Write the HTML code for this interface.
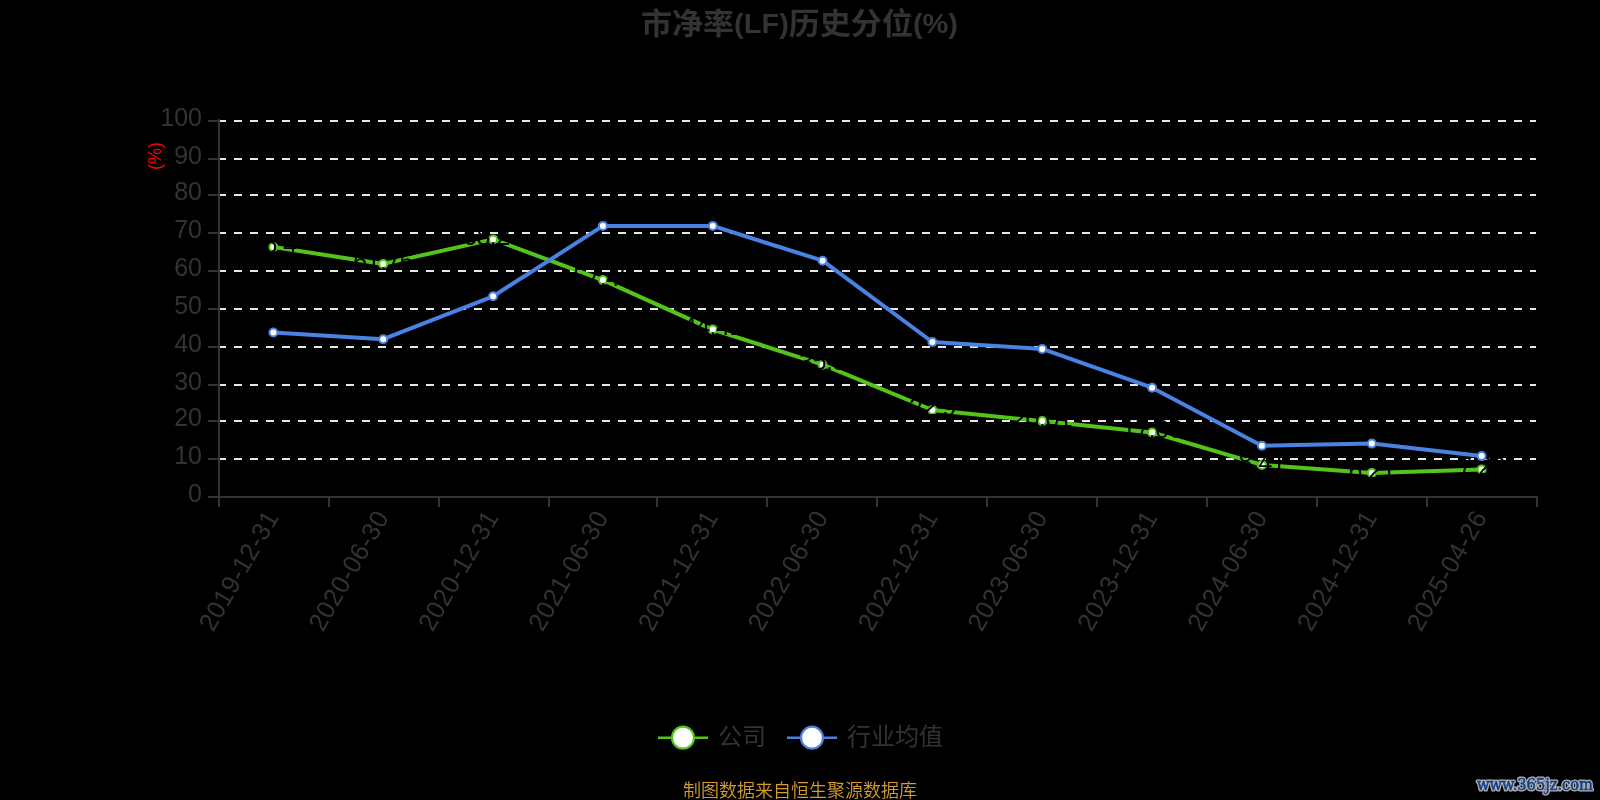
<!DOCTYPE html>
<html lang="zh-CN"><head><meta charset="utf-8"><title>市净率(LF)历史分位(%)</title>
<style>html,body{margin:0;padding:0;background:#000;}body{width:1600px;height:800px;overflow:hidden;}svg{display:block;will-change:transform;}text{font-family:"Liberation Sans","Noto Sans CJK SC",sans-serif;}</style></head><body>
<svg width="1600" height="800" viewBox="0 0 1600 800">
<rect width="1600" height="800" fill="#000"/>
<text x="641" y="33.8" textLength="317" lengthAdjust="spacingAndGlyphs" font-size="30" font-weight="bold" fill="#333">市净率<tspan font-size="28" dy="-1.2">(LF)</tspan><tspan dy="1.2">历史分位</tspan><tspan font-size="28" dy="-1.2">(%)</tspan></text>
<g stroke="#e6e6e6" stroke-width="2" stroke-dasharray="8 8">
<line x1="218" y1="121" x2="1536" y2="121"/>
<line x1="218" y1="159" x2="1536" y2="159"/>
<line x1="218" y1="195" x2="1536" y2="195"/>
<line x1="218" y1="233" x2="1536" y2="233"/>
<line x1="218" y1="271" x2="1536" y2="271"/>
<line x1="218" y1="309" x2="1536" y2="309"/>
<line x1="218" y1="347" x2="1536" y2="347"/>
<line x1="218" y1="385" x2="1536" y2="385"/>
<line x1="218" y1="421" x2="1536" y2="421"/>
<line x1="218" y1="459" x2="1536" y2="459"/>
</g>
<g stroke="#333333" stroke-width="2" fill="none">
<line x1="219" y1="119" x2="219" y2="498"/>
<line x1="218" y1="497" x2="1538" y2="497"/>
<line x1="208" y1="121" x2="219" y2="121"/>
<line x1="208" y1="159" x2="219" y2="159"/>
<line x1="208" y1="195" x2="219" y2="195"/>
<line x1="208" y1="233" x2="219" y2="233"/>
<line x1="208" y1="271" x2="219" y2="271"/>
<line x1="208" y1="309" x2="219" y2="309"/>
<line x1="208" y1="347" x2="219" y2="347"/>
<line x1="208" y1="385" x2="219" y2="385"/>
<line x1="208" y1="421" x2="219" y2="421"/>
<line x1="208" y1="459" x2="219" y2="459"/>
<line x1="208" y1="497" x2="219" y2="497"/>
<line x1="219" y1="497" x2="219" y2="507"/>
<line x1="329" y1="497" x2="329" y2="507"/>
<line x1="439" y1="497" x2="439" y2="507"/>
<line x1="549" y1="497" x2="549" y2="507"/>
<line x1="657" y1="497" x2="657" y2="507"/>
<line x1="767" y1="497" x2="767" y2="507"/>
<line x1="877" y1="497" x2="877" y2="507"/>
<line x1="987" y1="497" x2="987" y2="507"/>
<line x1="1097" y1="497" x2="1097" y2="507"/>
<line x1="1207" y1="497" x2="1207" y2="507"/>
<line x1="1317" y1="497" x2="1317" y2="507"/>
<line x1="1427" y1="497" x2="1427" y2="507"/>
<line x1="1537" y1="497" x2="1537" y2="507"/>
</g>
<g font-size="25" fill="#333" text-anchor="end">
<text transform="translate(202,126.4) scale(1,1.03)">100</text>
<text transform="translate(202,164.4) scale(1,1.03)">90</text>
<text transform="translate(202,200.4) scale(1,1.03)">80</text>
<text transform="translate(202,238.4) scale(1,1.03)">70</text>
<text transform="translate(202,276.4) scale(1,1.03)">60</text>
<text transform="translate(202,314.4) scale(1,1.03)">50</text>
<text transform="translate(202,352.4) scale(1,1.03)">40</text>
<text transform="translate(202,390.4) scale(1,1.03)">30</text>
<text transform="translate(202,426.4) scale(1,1.03)">20</text>
<text transform="translate(202,464.4) scale(1,1.03)">10</text>
<text transform="translate(202,502.4) scale(1,1.03)">0</text>
</g>
<text transform="translate(161,155.9) rotate(-90)" text-anchor="middle" font-size="18" fill="#ff0000">(%)</text>
<g font-size="25" fill="#333" text-anchor="end">
<text transform="translate(272.2,512.5) rotate(-60) scale(1,1.03)" x="0" y="8.5" letter-spacing="0.6">2019-12-31</text>
<text transform="translate(382.1,512.5) rotate(-60) scale(1,1.03)" x="0" y="8.5" letter-spacing="0.6">2020-06-30</text>
<text transform="translate(491.9,512.5) rotate(-60) scale(1,1.03)" x="0" y="8.5" letter-spacing="0.6">2020-12-31</text>
<text transform="translate(601.7,512.5) rotate(-60) scale(1,1.03)" x="0" y="8.5" letter-spacing="0.6">2021-06-30</text>
<text transform="translate(711.5,512.5) rotate(-60) scale(1,1.03)" x="0" y="8.5" letter-spacing="0.6">2021-12-31</text>
<text transform="translate(821.4,512.5) rotate(-60) scale(1,1.03)" x="0" y="8.5" letter-spacing="0.6">2022-06-30</text>
<text transform="translate(931.2,512.5) rotate(-60) scale(1,1.03)" x="0" y="8.5" letter-spacing="0.6">2022-12-31</text>
<text transform="translate(1041.0,512.5) rotate(-60) scale(1,1.03)" x="0" y="8.5" letter-spacing="0.6">2023-06-30</text>
<text transform="translate(1150.9,512.5) rotate(-60) scale(1,1.03)" x="0" y="8.5" letter-spacing="0.6">2023-12-31</text>
<text transform="translate(1260.7,512.5) rotate(-60) scale(1,1.03)" x="0" y="8.5" letter-spacing="0.6">2024-06-30</text>
<text transform="translate(1370.5,512.5) rotate(-60) scale(1,1.03)" x="0" y="8.5" letter-spacing="0.6">2024-12-31</text>
<text transform="translate(1480.4,512.5) rotate(-60) scale(1,1.03)" x="0" y="8.5" letter-spacing="0.6">2025-04-26</text>
</g>
<polyline points="273.4,247.0 383.2,263.9 493.1,239.4 602.9,280.1 712.8,329.6 822.6,364.7 932.4,410.0 1042.2,421.1 1152.1,432.5 1261.9,464.9 1371.8,472.9 1481.6,469.4" fill="none" stroke="#52c41a" stroke-width="4" stroke-linejoin="bevel"/>
<g fill="#fff" stroke="#52c41a" stroke-width="2">
<circle cx="273.4" cy="247.0" r="4"/>
<circle cx="383.2" cy="263.9" r="4"/>
<circle cx="493.1" cy="239.4" r="4"/>
<circle cx="602.9" cy="280.1" r="4"/>
<circle cx="712.8" cy="329.6" r="4"/>
<circle cx="822.6" cy="364.7" r="4"/>
<circle cx="932.4" cy="410.0" r="4"/>
<circle cx="1042.2" cy="421.1" r="4"/>
<circle cx="1152.1" cy="432.5" r="4"/>
<circle cx="1261.9" cy="464.9" r="4"/>
<circle cx="1371.8" cy="472.9" r="4"/>
<circle cx="1481.6" cy="469.4" r="4"/>
</g>
<g font-size="25" fill="#000" text-anchor="middle" letter-spacing="-0.5" opacity="0.999">
<text transform="translate(273.4,252.6) scale(1,1.03)">66.4</text>
<text transform="translate(383.2,269.5) scale(1,1.03)">61.76</text>
<text transform="translate(493.1,245.0) scale(1,1.03)">68.24</text>
<text transform="translate(602.9,285.7) scale(1,1.03)">57.45</text>
<text transform="translate(712.8,335.2) scale(1,1.03)">44.41</text>
<text transform="translate(822.6,370.3) scale(1,1.03)">35.3</text>
<text transform="translate(932.4,415.6) scale(1,1.03)">22.9</text>
<text transform="translate(1042.2,426.7) scale(1,1.03)">20.01</text>
<text transform="translate(1152.1,438.1) scale(1,1.03)">17.06</text>
<text transform="translate(1261.9,470.5) scale(1,1.03)">8.41</text>
<text transform="translate(1371.8,478.5) scale(1,1.03)">6.21</text>
<text transform="translate(1481.6,475.0) scale(1,1.03)">7.26</text>
</g>
<polyline points="273.4,332.5 383.2,339.2 493.1,296.3 602.9,225.9 712.8,225.9 822.6,260.7 932.4,342.0 1042.2,348.9 1152.1,387.7 1261.9,445.7 1371.8,443.6 1481.6,456.1" fill="none" stroke="#4a82e3" stroke-width="4" stroke-linejoin="bevel"/>
<g fill="#fff" stroke="#4a82e3" stroke-width="2">
<circle cx="273.4" cy="332.5" r="4"/>
<circle cx="383.2" cy="339.2" r="4"/>
<circle cx="493.1" cy="296.3" r="4"/>
<circle cx="602.9" cy="225.9" r="4"/>
<circle cx="712.8" cy="225.9" r="4"/>
<circle cx="822.6" cy="260.7" r="4"/>
<circle cx="932.4" cy="342.0" r="4"/>
<circle cx="1042.2" cy="348.9" r="4"/>
<circle cx="1152.1" cy="387.7" r="4"/>
<circle cx="1261.9" cy="445.7" r="4"/>
<circle cx="1371.8" cy="443.6" r="4"/>
<circle cx="1481.6" cy="456.1" r="4"/>
</g>
<line x1="658" y1="737.7" x2="708" y2="737.7" stroke="#52c41a" stroke-width="2.5"/>
<circle cx="683" cy="737.7" r="11" fill="#fff" stroke="#52c41a" stroke-width="2.2"/>
<text x="718.0" y="744.6" font-size="24" fill="#333">公司</text>
<line x1="787" y1="737.7" x2="837" y2="737.7" stroke="#4a82e3" stroke-width="2.5"/>
<circle cx="812" cy="737.7" r="11" fill="#fff" stroke="#4a82e3" stroke-width="2.2"/>
<text x="847.0" y="744.6" font-size="24" fill="#333">行业均值</text>
<text x="800" y="796.5" text-anchor="middle" font-size="18" font-weight="350" fill="#d69c2e">制图数据来自恒生聚源数据库</text>
<defs><filter id="wb" x="-10%" y="-40%" width="120%" height="180%"><feGaussianBlur stdDeviation="0.45"/></filter></defs>
<text x="1477" y="789.8" textLength="116" lengthAdjust="spacingAndGlyphs" font-size="16.5" style="font-family:'DejaVu Serif Condensed','DejaVu Serif','Liberation Serif',serif" fill="#b2b2b2" stroke="#b2b2b2" stroke-width="3.2" stroke-linejoin="round" filter="url(#wb)">www.365jz.com</text>
<text x="1477" y="789.8" textLength="116" lengthAdjust="spacingAndGlyphs" font-size="16.5" style="font-family:'DejaVu Serif Condensed','DejaVu Serif','Liberation Serif',serif" fill="#133f8c" stroke="#133f8c" stroke-width="0.55">www.365jz.com</text>
</svg></body></html>
